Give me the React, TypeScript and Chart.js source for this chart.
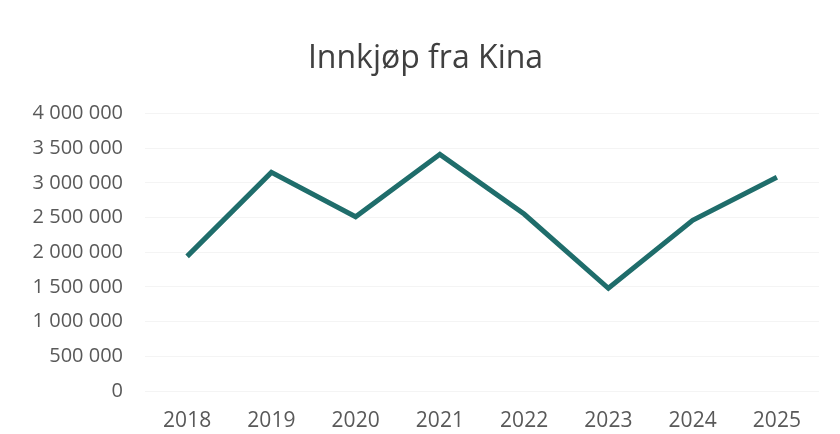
import React, { useEffect, useRef } from "react";
import { Chart, registerables } from "chart.js";

Chart.register(...registerables);

const categories = ["2018", "2019", "2020", "2021", "2022", "2023", "2024", "2025"];
const purchases = [1940000, 3150000, 2510000, 3410000, 2550000, 1480000, 2460000, 3080000];
const yTickValues = [0, 500000, 1000000, 1500000, 2000000, 2500000, 3000000, 3500000, 4000000];
const titleText = "Innkjøp fra Kina";

function formatNumber(v: number): string {
  return String(Math.round(v)).replace(/\B(?=(\d{3})+(?!\d))/g, " ");
}

export default function App() {
  const canvasRef = useRef<HTMLCanvasElement | null>(null);

  useEffect(() => {
    document.body.style.margin = "0";
    const canvas = canvasRef.current;
    if (!canvas) return;
    const chart = new Chart(canvas, {
      type: "line",
      data: {
        labels: categories,
        datasets: [
          {
            label: titleText,
            data: purchases,
            borderColor: "#1f6d6b",
            borderWidth: 5,
            pointRadius: 0,
            tension: 0,
            fill: false,
          },
        ],
      },
      options: {
        responsive: false,
        animation: false,
        layout: { padding: { top: 0, left: 32, right: 21, bottom: 0 } },
        plugins: {
          legend: { display: false },
          tooltip: { enabled: false },
          title: {
            display: true,
            text: titleText,
            color: "#404040",
            font: { family: "'Open Sans', sans-serif", size: 32, weight: "normal", lineHeight: 1.2 },
            padding: { top: 40, bottom: 35 },
          },
        },
        scales: {
          x: {
            offset: true,
            grid: { display: false, drawTicks: false },
            border: { display: false },
            ticks: {
              color: "#595959",
              padding: 17,
              maxRotation: 0,
              font: { family: "'Open Sans', sans-serif", size: 21, lineHeight: 1.2 },
            },
            afterFit: (scale: any) => {
              scale.height = 43;
            },
          },
          y: {
            min: 0,
            max: 4000000,
            afterBuildTicks: (scale: any) => {
              scale.ticks = yTickValues.map((v) => ({ value: v }));
            },
            grid: { color: "rgba(0,0,0,0.045)", lineWidth: 1, drawTicks: false },
            border: { display: false },
            ticks: {
              color: "#595959",
              padding: 22,
              font: { family: "'Open Sans', sans-serif", size: 20, lineHeight: 1.2 },
              callback: (v: any) => formatNumber(Number(v)),
            },
            afterFit: (scale: any) => {
              scale.width = 113;
            },
          },
        },
      },
    });
    return () => chart.destroy();
  }, []);

  return (
    <div style={{ width: 840, height: 434, background: "#ffffff" }}>
      <canvas ref={canvasRef} width={840} height={434} />
    </div>
  );
}
